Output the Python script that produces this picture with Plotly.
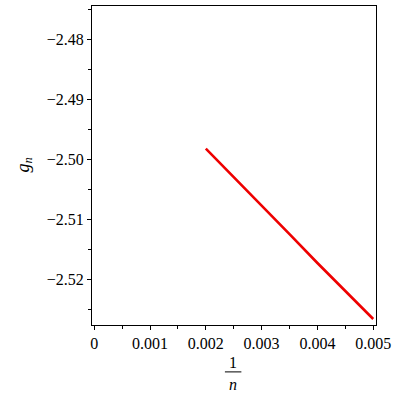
import plotly.graph_objects as go

# 1/n values and g_n
inv_n = [0.002, 0.0025, 0.003, 0.0035, 0.004, 0.0045, 0.005]
g_n = [-2.4982, -2.5029, -2.5076, -2.5124, -2.5172, -2.5219, -2.5265]

x_ticks = [0, 0.001, 0.002, 0.003, 0.004, 0.005]
x_labels = ["0", "0.001", "0.002", "0.003", "0.004", "0.005"]
y_ticks = [-2.52, -2.51, -2.50, -2.49, -2.48]
y_labels = ["\u22122.52", "\u22122.51", "\u22122.50", "\u22122.49", "\u22122.48"]

font = dict(family="Liberation Serif", size=16, color="black")

fig = go.Figure()
fig.add_trace(go.Scatter(
    x=inv_n, y=g_n, mode="lines",
    line=dict(color="#ee0000", width=2.6),
    showlegend=False, hoverinfo="skip",
))

axis_common = dict(
    showgrid=False, zeroline=False,
    showline=True, linecolor="black", linewidth=1.2, mirror=True,
    ticks="outside", ticklen=4, tickwidth=1, tickcolor="black",
    tickfont=font,
)

fig.update_xaxes(
    range=[-0.00004, 0.00505],
    tickvals=x_ticks, ticktext=x_labels,
    minor=dict(ticks="outside", ticklen=3, tickwidth=1, tickcolor="black",
               tickvals=[0.0005, 0.0015, 0.0025, 0.0035, 0.0045]),
    **axis_common,
)
fig.update_yaxes(
    range=[-2.5275, -2.4745],
    tickvals=y_ticks, ticktext=y_labels,
    minor=dict(ticks="outside", ticklen=3, tickwidth=1, tickcolor="black",
               tickvals=[-2.525, -2.515, -2.505, -2.495, -2.485, -2.475]),
    **axis_common,
)

# axis titles: g_n rotated on the left, 1/n fraction below
fig.add_annotation(
    text="<i>g</i><sub><i>n</i></sub>", xref="paper", yref="paper",
    x=-0.239, y=0.50, xanchor="center", yanchor="middle",
    showarrow=False, textangle=-90, font=dict(font, size=18),
)
fig.add_annotation(
    text="1", xref="paper", yref="paper", x=0.496, y=-0.119,
    xanchor="center", yanchor="middle", showarrow=False, font=font,
)
fig.add_annotation(
    text="<i>n</i>", xref="paper", yref="paper", x=0.496, y=-0.187,
    xanchor="center", yanchor="middle", showarrow=False, font=font,
)
fig.add_shape(
    type="line", xref="paper", yref="paper",
    x0=0.468, x1=0.526, y0=-0.147, y1=-0.147,
    line=dict(color="black", width=1),
)

fig.update_layout(
    width=400, height=400,
    margin=dict(l=92, r=24, t=6, b=75, autoexpand=False),
    paper_bgcolor="white", plot_bgcolor="white",
    font=font,
)

fig.write_html(
    "out.html",
    config={"displayModeBar": False},
    post_script="document.body.style.margin='0';",
)
